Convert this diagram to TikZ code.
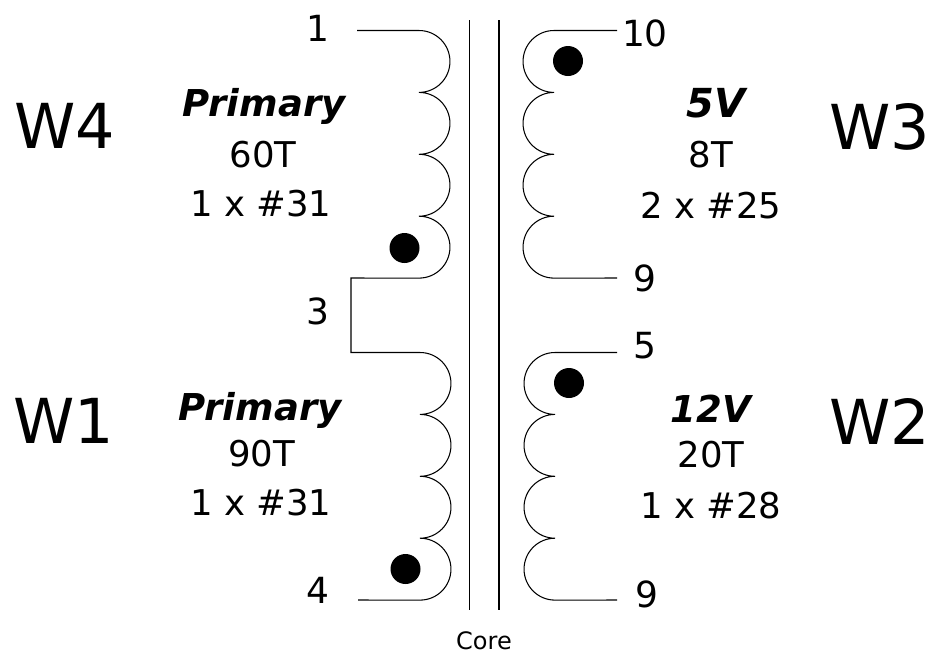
\documentclass[tikz,border=0pt]{standalone}
\usepackage{fontspec}
\setmainfont{DejaVu Sans}
\begin{document}
\begin{tikzpicture}[x=1pt,y=-1pt,
	wire/.style = {draw, line width=1.05pt},
	dot/.style = {draw=none, fill=black, circle, minimum size=30pt, inner sep=0pt},
	pin/.style = {font=\fontsize{36}{36}\selectfont, inner sep=0pt},
	wname/.style = {font=\fontsize{62}{62}\selectfont, inner sep=0pt},
	title/.style = {font=\fontsize{37}{37}\selectfont\bfseries\itshape, inner sep=0pt},
	info/.style = {font=\fontsize{35.5}{36}\selectfont, inner sep=0pt}]
	\useasboundingbox (0,0) rectangle (930,654);
	% terminals
	\coordinate (t1) at (357,30.5);
	\coordinate (a1) at (419,30.5);
	\coordinate (k1) at (351,278);
	\coordinate (k2) at (351,352.5);
	\coordinate (b3) at (420,352.5);
	\coordinate (t4) at (358,600);
	\coordinate (t10) at (617,30.5);
	\coordinate (c10) at (554,30.5);
	\coordinate (t9) at (617,278);
	\coordinate (t5) at (617,352.5);
	\coordinate (d5) at (555,352.5);
	\coordinate (t9b) at (617,600);
	% windings
	\draw[wire] (t1) -- (a1)
		arc[start angle=90, end angle=-90, radius=30.95pt]
		arc[start angle=90, end angle=-90, radius=30.95pt]
		arc[start angle=90, end angle=-90, radius=30.95pt]
		arc[start angle=90, end angle=-90, radius=30.95pt] -- (k1) -- (k2) -- (b3)
		arc[start angle=90, end angle=-90, radius=30.95pt]
		arc[start angle=90, end angle=-90, radius=30.95pt]
		arc[start angle=90, end angle=-90, radius=30.95pt]
		arc[start angle=90, end angle=-90, radius=30.95pt] -- (t4);
	\draw[wire] (t10) -- (c10)
		arc[start angle=90, end angle=270, radius=30.95pt]
		arc[start angle=90, end angle=270, radius=30.95pt]
		arc[start angle=90, end angle=270, radius=30.95pt]
		arc[start angle=90, end angle=270, radius=30.95pt] -- (t9);
	\draw[wire] (t5) -- (d5)
		arc[start angle=90, end angle=270, radius=30.95pt]
		arc[start angle=90, end angle=270, radius=30.95pt]
		arc[start angle=90, end angle=270, radius=30.95pt]
		arc[start angle=90, end angle=270, radius=30.95pt] -- (t9b);
	% core
	\coordinate (core1a) at (469.7,20);
	\coordinate (core1b) at (469.7,610);
	\coordinate (core2a) at (499,20);
	\coordinate (core2b) at (499,610);
	\draw[wire] (core1a) -- (core1b);
	\draw[wire] (core2a) -- (core2b);
	\node[font=\fontsize{24}{24}\selectfont, inner sep=0pt] (core) at (484,641) {Core};
	% dots
	\node[dot] (dot4) at (404.5,248) {};
	\node[dot] (dot3) at (568,61) {};
	\node[dot] (dot1) at (405.5,569) {};
	\node[dot] (dot2) at (569,383) {};
	% pins
	\node[pin] (p1) at (318,28) {1};
	\node[pin] (p3) at (318,311) {3};
	\node[pin] (p4) at (318,590) {4};
	\node[pin] (p10) at (645,33) {10};
	\node[pin] (p9) at (645,278) {9};
	\node[pin] (p5) at (645,346) {5};
	\node[pin] (p9b) at (647,594) {9};
	% windings names
	\node[wname] (w4) at (65,126) {W4};
	\node[wname] (w1) at (64,421) {W1};
	\node[wname] (w3) at (880,127) {W3};
	\node[wname] (w2) at (880,421) {W2};
	% winding data
	\node[title] (prim4) at (264,106) {Primary};
	\node[info] (turn4) at (263,155) {60T};
	\node[info] (wire4) at (261,204) {1 x \#31};
	\node[title] (prim1) at (260,410) {Primary};
	\node[info] (turn1) at (261.5,454) {90T};
	\node[info] (wire1) at (261,503) {1 x \#31};
	\node[title, font=\fontsize{40}{40}\selectfont\bfseries\itshape] (volt3) at (716,103) {5V};
	\node[info] (turn3) at (711,155) {8T};
	\node[info] (wire3) at (711,206) {2 x \#25};
	\node[title] (volt2) at (711,409) {12V};
	\node[info] (turn2) at (711,455) {20T};
	\node[info] (wire2) at (711,506) {1 x \#28};
\end{tikzpicture}
\end{document}
